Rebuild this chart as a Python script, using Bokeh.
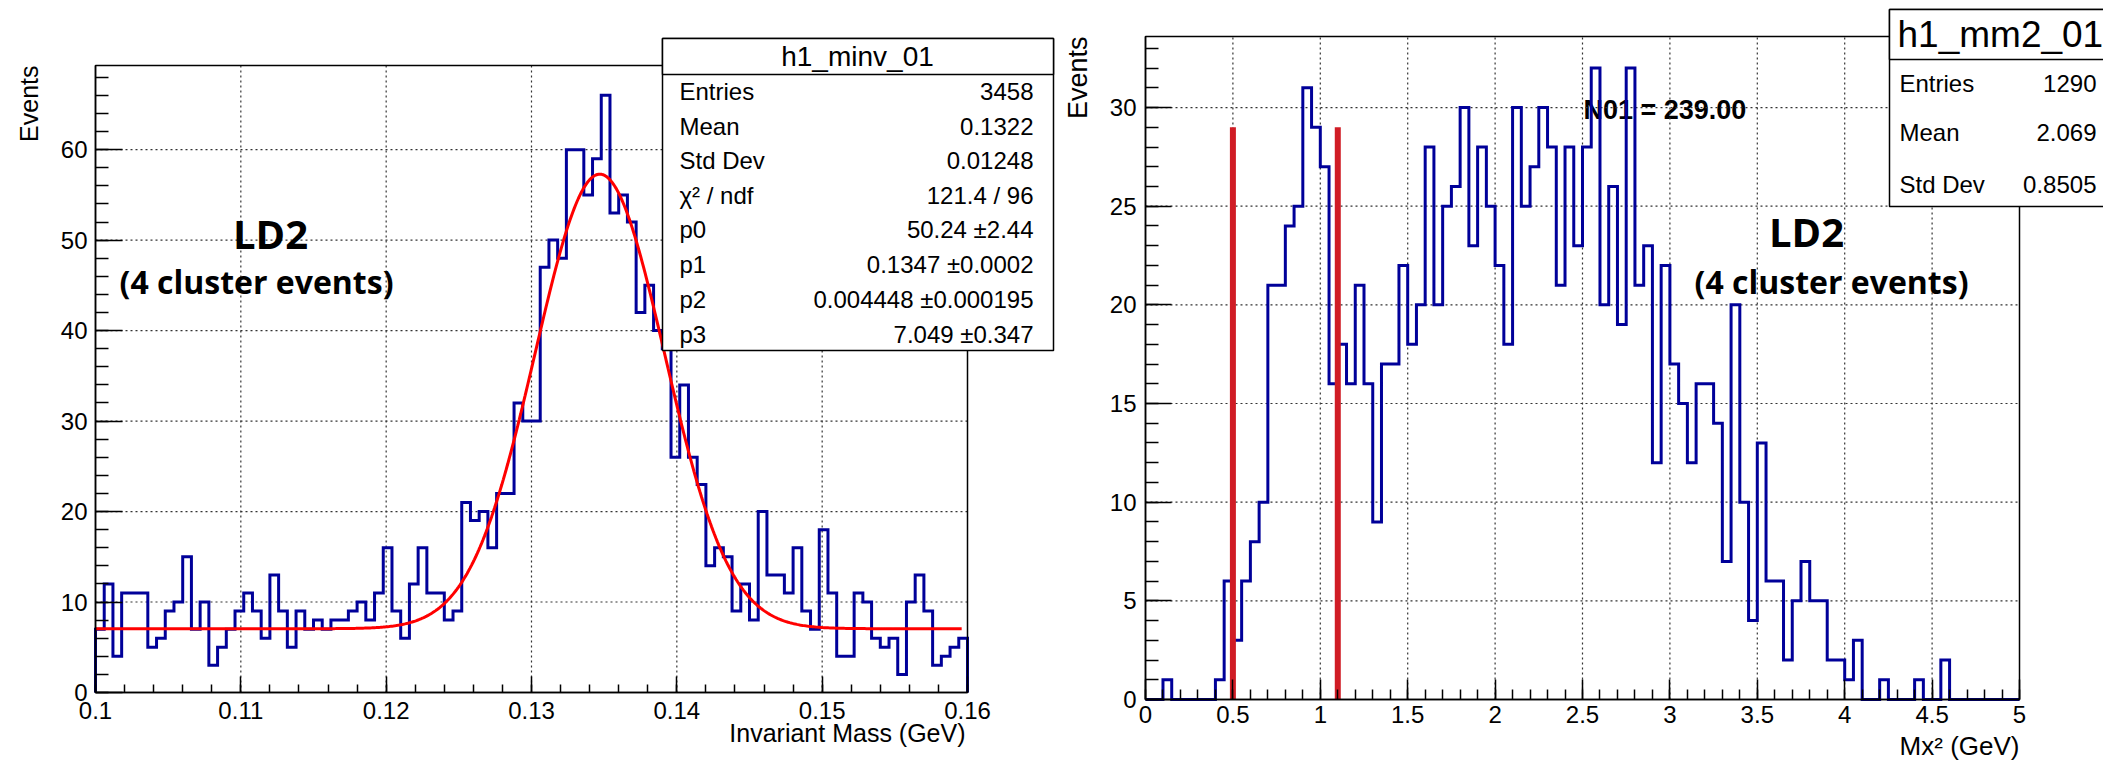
import numpy as np
from bokeh.plotting import figure
from bokeh.layouts import row
from bokeh.models import FixedTicker, Label, BoxAnnotation, Range1d
from bokeh.embed import file_html
from bokeh.resources import INLINE

# ------------------------- data: left panel -------------------------
minv_lo, minv_hi, minv_nbins = 0.1, 0.16, 100
minv_counts = [
    7, 12, 4, 11, 11, 11, 5, 6, 9, 10,
    15, 7, 10, 3, 5, 7, 9, 11, 9, 6,
    13, 9, 5, 9, 7, 8, 7, 8, 8, 9,
    10, 8, 11, 16, 9, 6, 12, 16, 11, 11,
    8, 9, 21, 19, 20, 16, 22, 22, 32, 30,
    30, 47, 50, 48, 60, 60, 55, 59, 66, 53,
    55, 52, 42, 45, 40, 38, 26, 34, 26, 23,
    14, 16, 15, 9, 12, 8, 20, 13, 13, 11,
    16, 9, 7, 18, 11, 4, 4, 11, 10, 6,
    5, 6, 2, 10, 13, 9, 3, 4, 5, 6,
]
# Gaussian + constant fit, parameters as printed in the stats box
fit_p0, fit_p1, fit_p2, fit_p3 = 50.24, 0.1347, 0.004448, 7.049
fit_x_lo, fit_x_hi = 0.1, 0.1596

minv_xticks = [0.1, 0.11, 0.12, 0.13, 0.14, 0.15, 0.16]
minv_xtick_labels = ["0.1", "0.11", "0.12", "0.13", "0.14", "0.15", "0.16"]
minv_yticks = [0, 10, 20, 30, 40, 50, 60]
minv_stats_title = "h1_minv_01"
minv_stats_names = ["Entries", "Mean", "Std Dev", "\u03c7\u00b2 / ndf", "p0", "p1", "p2", "p3"]
minv_stats_values = ["3458", "0.1322", "0.01248", "121.4 / 96", "50.24 \u00b12.44",
                     "0.1347 \u00b10.0002", "0.004448 \u00b10.000195", "7.049 \u00b10.347"]
minv_xtitle = "Invariant Mass (GeV)"

# ------------------------- data: right panel -------------------------
mm2_lo, mm2_hi, mm2_nbins = 0.0, 5.0, 100
mm2_counts = [
    0, 0, 1, 0, 0, 0, 0, 0, 1, 6,
    3, 6, 8, 10, 21, 21, 24, 25, 31, 29,
    27, 16, 18, 16, 21, 16, 9, 17, 17, 22,
    18, 20, 28, 20, 25, 26, 30, 23, 28, 25,
    22, 18, 30, 25, 27, 30, 28, 21, 28, 23,
    28, 32, 20, 26, 19, 32, 21, 23, 12, 22,
    17, 15, 12, 16, 16, 14, 7, 20, 10, 4,
    13, 6, 6, 2, 5, 7, 5, 5, 2, 2,
    1, 3, 0, 0, 1, 0, 0, 0, 1, 0,
    0, 2, 0, 0, 0, 0, 0, 0, 0, 0,
]
cut_lo, cut_hi, cut_top = 0.5, 1.1, 29
mm2_xticks = [0, 0.5, 1, 1.5, 2, 2.5, 3, 3.5, 4, 4.5, 5]
mm2_xtick_labels = ["0", "0.5", "1", "1.5", "2", "2.5", "3", "3.5", "4", "4.5", "5"]
mm2_yticks = [0, 5, 10, 15, 20, 25, 30]
mm2_stats_title = "h1_mm2_01"
mm2_stats_names = ["Entries", "Mean", "Std Dev"]
mm2_stats_values = ["1290", "2.069", "0.8505"]
mm2_xtitle = "Mx\u00b2 (GeV)"
n01_text = "N01 = 239.00"

ylabel = "Events"
target_text = "LD2"
target_sub = "(4 cluster events)"

# ------------------------- styling -------------------------
HIST_COLOR = "#000099"
FIT_COLOR = "#ff0000"
CUT_COLOR = "#d01c25"
FONT = "Liberation Sans"
BOLD_FONT = "Open Sans"
H = 761
W1 = 1060
W2 = 2103 - W1


def hist_outline(lo, hi, n, counts):
    edges = np.linspace(lo, hi, n + 1)
    xs = np.repeat(edges, 2)
    ys = np.concatenate([[0], np.repeat(np.asarray(counts, float), 2), [0]])
    return xs, ys


def make_panel(width, canvas_x0, frame_px, xlo, xhi, ymax):
    """Figure whose plotting frame is the whole canvas; the histogram frame
    occupies frame_px = (left, right, top, bottom) in page pixels."""
    fl, fr, ft, fb = frame_px
    sx = (xhi - xlo) / (fr - fl)
    sy = ymax / (fb - ft)
    xr = Range1d(xlo - (fl - canvas_x0) * sx, xlo + (canvas_x0 + width - fl) * sx)
    yr = Range1d(-(H - fb) * sy, fb * sy)
    p = figure(width=width, height=H, x_range=xr, y_range=yr, output_backend="svg",
               toolbar_location=None, min_border=0, min_border_left=0, min_border_right=0,
               min_border_top=0, min_border_bottom=0)
    p.background_fill_color = "white"
    p.border_fill_color = "white"
    p.outline_line_color = None
    p.xgrid.visible = False
    p.ygrid.visible = False

    def to_data(px, py):
        return (xlo + (px - fl) * sx, (fb - py) * sy)
    return p, to_data


def style_axes(p, xlo, xhi, ymax, xt, xminor, xlabels, yt, yminor,
               xtick_in, ytick_in, xstand, ystand):
    p.xaxis.fixed_location = 0
    p.yaxis.fixed_location = xlo
    p.xaxis.bounds = (xlo, xhi)
    p.yaxis.bounds = (0, ymax)
    p.xaxis.ticker = FixedTicker(ticks=xt, minor_ticks=xminor)
    p.yaxis.ticker = FixedTicker(ticks=yt, minor_ticks=yminor)
    p.xaxis.major_label_overrides = {t: l for t, l in zip(xt, xlabels)}
    for ax, tin, st in ((p.xaxis, xtick_in, xstand), (p.yaxis, ytick_in, ystand)):
        ax.major_tick_in = tin
        ax.major_tick_out = 0
        ax.minor_tick_in = tin // 2
        ax.minor_tick_out = 0
        ax.major_tick_line_color = "black"
        ax.minor_tick_line_color = "black"
        ax.major_tick_line_width = 1.5
        ax.minor_tick_line_width = 1.5
        ax.axis_line_color = "black"
        ax.axis_line_width = 1.5
        ax.major_label_text_font = FONT
        ax.major_label_text_font_size = "24px"
        ax.major_label_text_color = "black"
        ax.major_label_standoff = st
    # dotted grid at the major ticks, restricted to the histogram frame
    gx = [t for t in xt if xlo < t < xhi]
    gy = [t for t in yt if 0 < t < ymax]
    p.segment(x0=gx, y0=[0] * len(gx), x1=gx, y1=[ymax] * len(gx),
              line_color="#333333", line_dash="2 3", line_width=1.2)
    p.segment(x0=[xlo] * len(gy), y0=gy, x1=[xhi] * len(gy), y1=gy,
              line_color="#333333", line_dash="2 3", line_width=1.2)


def add_frame(p, xlo, xhi, ymax):
    p.add_layout(BoxAnnotation(left=xlo, right=xhi, bottom=0, top=ymax, fill_alpha=0,
                               line_color="black", line_width=1.5, line_alpha=1))


def add_box(p, left, right, top, bottom):
    p.add_layout(BoxAnnotation(left=left, right=right, top=top, bottom=bottom,
                               fill_color="white", fill_alpha=1, line_color="black",
                               line_width=1.5, line_alpha=1))


def add_text(p, x, y, text, size, align="left", baseline="middle", font=FONT,
             style="normal", angle=0, level="annotation"):
    p.add_layout(Label(x=x, y=y, text=text, text_font=font, text_font_size=size,
                       text_font_style=style, text_align=align, text_baseline=baseline,
                       text_color="black", angle=angle, level=level))


# ========================= LEFT PANEL =========================
minv_ymax = 1.05 * max(minv_counts)
p1, L = make_panel(W1, 0, (95, 967, 65, 692), minv_lo, minv_hi, minv_ymax)
style_axes(p1, minv_lo, minv_hi, minv_ymax, minv_xticks,
           list(np.round(np.arange(0.1, 0.1601, 0.002), 4)), minv_xtick_labels,
           minv_yticks, list(range(0, 70, 2)), 16, 27, 9, 8)

hx, hy = hist_outline(minv_lo, minv_hi, minv_nbins, minv_counts)
p1.line(hx, hy, line_color=HIST_COLOR, line_width=3, line_join="miter")

fx = np.linspace(fit_x_lo, fit_x_hi, 600)
fy = fit_p0 * np.exp(-0.5 * ((fx - fit_p1) / fit_p2) ** 2) + fit_p3
p1.line(fx, fy, line_color=FIT_COLOR, line_width=3)

add_frame(p1, minv_lo, minv_hi, minv_ymax)

# stats box
bx0, by0 = L(662, 38)
bx1, by1 = L(1053, 350)
_, bys = L(0, 74)
add_box(p1, bx0, bx1, by0, by1)
add_box(p1, bx0, bx1, by0, bys)
tx, ty = L(857, 56)
add_text(p1, tx, ty, minv_stats_title, "28px", align="center")
row_y = [91, 125.5, 160, 194.5, 229, 264, 299, 334]
for name, val, yy in zip(minv_stats_names, minv_stats_values, row_y):
    ax_, ay_ = L(679, yy)
    add_text(p1, ax_, ay_, name, "24px")
    vx_, vy_ = L(1033, yy)
    add_text(p1, vx_, vy_, val, "24px", align="right")

# axis titles
ex, ey = L(28, 65)
add_text(p1, ex, ey, ylabel, "25px", align="right", angle=np.pi / 2)
xtx, xty = L(965, 732)
add_text(p1, xtx, xty, minv_xtitle, "25px", align="right")

# LD2 annotation
lx, ly = L(270, 233)
add_text(p1, lx, ly, target_text, "40px", align="center", font=BOLD_FONT, style="bold")
sx_, sy_ = L(256, 281)
add_text(p1, sx_, sy_, target_sub, "32px", align="center", font=BOLD_FONT, style="bold")

# ========================= RIGHT PANEL =========================
mm2_ymax = 1.05 * max(mm2_counts)
p2, R = make_panel(W2, W1, (1145, 2019, 36, 699), mm2_lo, mm2_hi, mm2_ymax)
style_axes(p2, mm2_lo, mm2_hi, mm2_ymax, mm2_xticks,
           list(np.round(np.arange(0, 5.001, 0.1), 2)), mm2_xtick_labels,
           mm2_yticks, list(range(0, 34)), 20, 26, 6, 9)

nx, ny = R(1583, 109)
add_text(p2, nx, ny, n01_text, "27px", style="bold", level="underlay")

hx2, hy2 = hist_outline(mm2_lo, mm2_hi, mm2_nbins, mm2_counts)
p2.line(hx2, hy2, line_color=HIST_COLOR, line_width=3, line_join="miter")

p2.segment(x0=[cut_lo, cut_hi], y0=[0, 0], x1=[cut_lo, cut_hi], y1=[cut_top, cut_top],
           line_color=CUT_COLOR, line_width=6)

add_frame(p2, mm2_lo, mm2_hi, mm2_ymax)

# stats box
cx0, cy0 = R(1889, 9)
cx1, cy1 = R(2115, 206)
_, cys = R(0, 59)
add_box(p2, cx0, cx1, cy0, cy1)
add_box(p2, cx0, cx1, cy0, cys)
t2x, t2y = R(1897, 34)
add_text(p2, t2x, t2y, mm2_stats_title, "37px")
row_y2 = [82.5, 132, 183.5]
for name, val, yy in zip(mm2_stats_names, mm2_stats_values, row_y2):
    ax_, ay_ = R(1899, yy)
    add_text(p2, ax_, ay_, name, "24px")
    vx_, vy_ = R(2096, yy)
    add_text(p2, vx_, vy_, val, "24px", align="right")

ex2, ey2 = R(1077, 36)
add_text(p2, ex2, ey2, ylabel, "27px", align="right", angle=np.pi / 2)
x2x, x2y = R(2019, 745)
add_text(p2, x2x, x2y, mm2_xtitle, "26px", align="right")

l2x, l2y = R(1806, 231)
add_text(p2, l2x, l2y, target_text, "40px", align="center", font=BOLD_FONT, style="bold")
s2x, s2y = R(1831, 281)
add_text(p2, s2x, s2y, target_sub, "32px", align="center", font=BOLD_FONT, style="bold")

layout = row(p1, p2)
open("out.html", "w").write(file_html(layout, INLINE, title="h1_minv_01 / h1_mm2_01"))
